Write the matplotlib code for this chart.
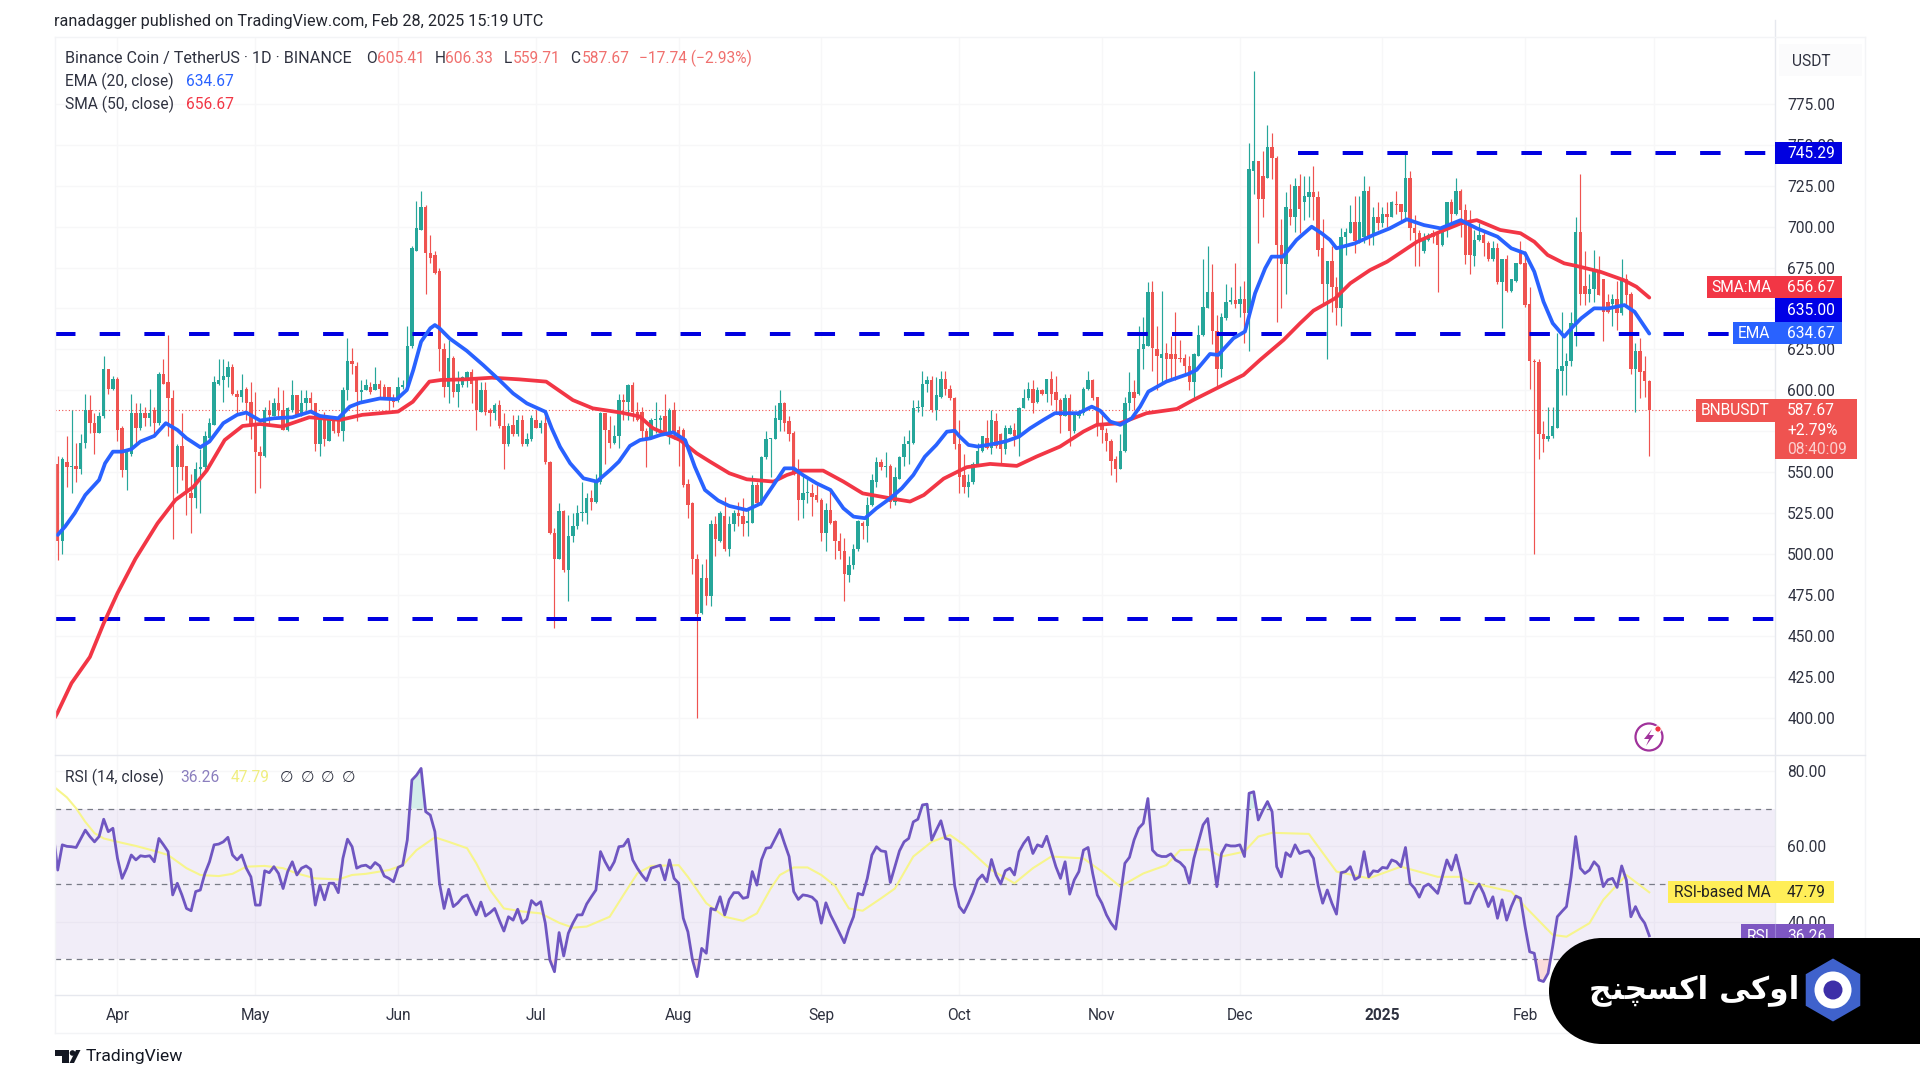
import numpy as np
import matplotlib
matplotlib.use("Agg")
import matplotlib.pyplot as plt
from matplotlib.patches import Rectangle, RegularPolygon, Circle, Polygon

plt.rcParams['font.family'] = ['Roboto', 'DejaVu Sans']

# ---------- data ----------
month_days = [0, 30, 61, 91, 122, 153, 183, 214, 244, 275, 306, 334]
month_labels = ['Apr', 'May', 'Jun', 'Jul', 'Aug', 'Sep', 'Oct', 'Nov', 'Dec', '2025', 'Feb', 'Mar']
first_day = -13      # bar offset (days from 1 Apr 2024) of the first visible candle

opens = [
 555,508,556,553,554,552,568,588,580,574, 584,613,601,607,577,551,561,586,577,586,
 583,588,580,610,605,595,553,566,554,537, 534,552,553,571,579,604,606,608,614,598,
 596,601,593,579,562,560,588,584,592,588, 576,588,597,584,592,595,592,567,584,569,
 582,581,575,600,618,615,599,600,602,600, 604,602,602,595,594,602,602,627,685,698,
 712,684,683,673,625,602,620,599,603,607, 611,606,587,600,588,586,591,578,567,579,
 573,582,567,570,582,577,580,556,513,497, 526,490,511,517,525,525,534,532,544,586,
 576,568,572,594,593,603,587,587,575,571, 582,582,584,574,588,576,576,543,531,497,
 464,485,474,518,508,523,503,518,525,523, 519,519,542,531,559,570,570,582,592,581,
 574,551,533,537,537,536,533,513,527,520, 508,502,487,493,503,519,517,530,544,556,
 553,554,532,546,559,567,568,589,590,604, 606,588,596,607,601,595,567,548,541,544,
 555,563,571,565,581,573,564,573,576,572, 589,595,601,593,600,598,607,599,594,584,
 595,575,584,586,601,606,596,578,574,569, 558,552,563,592,599,598,625,627,660,625,
 620,623,622,622,620,620,615,605,621,634, 650,660,636,613,644,654,655,653,656,647,
 734,740,731,730,749,742,689,677,711,706, 725,715,718,721,718,687,665,679,663,650,
 694,696,703,690,694,722,695,706,702,708, 706,714,714,709,730,699,696,685,692,696,
 696,689,698,715,708,722,710,701,682,692, 695,690,680,687,666,680,661,667,684,678,
 653,618,617,573,570,572,577,612,615,618, 641,697,664,659,662,673,668,654,653,656,
 647,668,659,613,624,612,605.41]
highs = [
 560,559,572,588,568,573,598,597,586,587, 621,613,609,608,578,564,598,592,592,590,
 601,590,611,619,634,600,567,586,554,549, 556,564,575,583,609,619,619,618,616,600,
 610,602,605,599,566,590,594,595,602,600, 590,606,597,600,600,599,592,584,587,584,
 583,582,602,632,626,617,606,607,605,614, 606,604,602,598,608,606,639,688,716,722,
 713,695,685,675,629,631,621,612,609,612, 613,608,605,605,589,592,594,586,580,585,
 585,585,574,585,588,582,588,557,516,531, 527,524,525,530,544,537,539,549,587,586,
 584,579,598,598,604,605,593,590,577,583, 593,585,598,589,593,578,577,546,532,500,
 494,497,521,523,526,535,523,527,532,534, 527,548,544,560,575,571,591,600,593,584,
 575,558,549,546,543,542,534,531,539,521, 513,510,499,506,521,520,535,549,559,558,
 562,555,553,560,572,576,594,594,612,609, 609,608,612,612,603,596,582,561,549,556,
 568,572,582,588,586,574,579,579,580,590, 601,605,606,602,601,607,612,609,595,598,
 598,586,588,602,612,607,596,586,577,570, 560,573,596,611,606,639,645,666,667,639,
 661,629,633,648,631,622,621,623,640,680, 688,677,646,647,665,663,678,664,667,751,
 795,740,746,762,757,743,705,721,726,730, 732,731,731,737,722,705,679,688,669,699,
 699,713,719,719,731,725,712,715,712,715, 716,722,714,746,734,707,698,696,696,698,
 697,699,715,717,730,723,714,710,698,702, 697,691,691,690,680,683,668,678,691,685,
 663,619,619,581,590,590,635,648,623,648, 706,732,685,671,686,682,668,659,659,667,
 680,671,660,629,632,621,606.33]
lows = [
 496,500,541,537,544,549,565,574,561,574, 583,598,600,569,547,539,560,568,576,578,
 578,573,579,604,572,509,537,545,524,513, 528,525,550,571,579,603,593,602,597,586,
 593,582,570,537,540,559,578,584,584,576, 575,587,584,584,588,588,563,560,566,569,
 574,572,569,594,610,581,592,600,598,600, 596,595,587,590,593,601,601,626,685,698,
 659,678,671,612,596,592,596,590,602,602, 592,576,587,585,578,582,577,552,566,572,
 572,566,566,569,577,574,555,512,455,497, 489,471,507,515,520,518,527,531,543,555,
 565,567,565,582,582,581,581,570,553,570, 574,575,573,567,570,554,541,522,488,400,
 463,469,468,499,507,502,499,514,517,511, 511,519,530,530,558,547,570,575,575,569,
 548,521,522,531,523,532,508,502,518,497, 497,471,483,491,502,509,507,529,541,551,
 547,528,530,546,554,555,567,587,584,599, 587,582,595,597,594,564,537,537,535,543,
 554,562,564,561,565,555,561,573,566,560, 589,594,586,592,597,593,591,586,574,584,
 566,574,583,585,600,594,572,568,563,548, 544,552,562,588,588,597,613,627,612,600,
 605,606,607,606,617,610,600,594,621,633, 650,628,602,608,643,653,650,645,629,624,
 720,690,706,730,729,642,650,659,701,697, 696,704,706,704,682,652,619,648,640,639,
 683,696,684,690,690,689,689,698,700,700, 706,708,702,704,692,676,676,684,691,690,
 660,688,694,702,707,694,677,671,676,691, 682,679,679,665,638,660,660,666,677,651,
 601,500,558,562,569,571,577,597,597,615, 627,652,652,654,654,658,630,647,639,637,
 646,651,610,587,595,596,559.71]
closes = [
 508,558,553,554,552,568,588,580,574,584, 613,601,607,576,551,562,586,577,586,583,
 586,580,610,604,595,553,566,553,537,534, 552,553,572,580,605,606,609,614,598,596,
 600,592,578,562,560,588,585,592,588,576, 589,597,584,592,595,592,567,583,570,582,
 575,574,600,618,616,599,600,603,599,604, 601,596,595,593,602,603,627,687,699,712,
 684,681,672,625,602,620,599,604,608,611, 604,588,600,587,586,591,578,567,578,573,
 582,567,570,583,577,580,556,513,497,526, 490,511,517,525,525,534,532,545,586,576,
 568,572,594,593,603,587,582,575,570,582, 582,583,574,588,574,571,542,530,497,463,
 485,474,518,509,525,503,518,525,523,518, 520,542,531,559,570,571,583,592,580,573,
 549,533,537,537,535,533,513,527,519,508, 502,488,493,503,520,517,530,545,556,553,
 554,532,547,559,567,569,589,590,604,606, 588,597,607,601,595,567,547,541,544,555,
 563,572,565,582,566,564,577,577,572,589, 595,601,592,600,598,607,598,594,584,595,
 575,585,586,601,606,595,578,576,569,557, 552,563,592,599,595,625,628,660,626,621,
 622,619,619,619,619,615,605,622,634,651, 660,636,613,645,654,655,653,656,647,735,
 740,717,717,749,742,689,677,712,706,725, 711,719,721,718,686,665,679,663,650,694,
 697,703,691,703,722,693,706,702,708,706, 715,713,709,730,699,696,691,693,695,694,
 689,698,715,708,722,710,683,683,692,695, 690,680,687,666,680,661,668,678,677,652,
 618,617,573,570,572,578,613,615,618,641, 697,659,659,662,673,658,648,648,656,647,
 668,658,613,624,611,605.41,587.67]

ema_days = [-13,-11.4,-9.3,-7,-4,-2.7,-1,1,3,5,8,10.5,13,15,18,20,23,26,28,31,34,38,42,44,48,
 50.5,52.7,57,60.7,62.9,64.3,66,68,69,70,72.2,75.9,79.5,83,86,89,93,94.4,96.2,98.4,101.3,104.2,107.1,109,111.4,
 113.6,115.8,118,120.8,123.4,125.5,127.7,130.6,133,136.8,139.9,142.6,145,147,149,152,155,157.8,160,162.5,165,168,170.5,173,175.5,178,180.3,182,
 183,185,187,190.4,193,196,198.4,201.3,203.8,206.4,208.9,211.8,213.6,215.8,218,220.5,222.3,224.1,228,232.8,234.6,237.5,239.3,242.6,245.1,247.3,249.5,250.9,253.4,256.3,
 259.6,261.8,263.6,265,269,273,276.6,280.3,284,287.6,292,295.5,300,303,306,308,310,312,314.5,316.4,318.2,321,324,327.6,329.8,333]
ema_vals = [511.6,516.7,524.9,536,545.2,555.4,562.5,562.5,564,568.7,572.1,579.9,575.8,570.7,565.2,568.7,579.9,585,586.4,581.5,582.9,583.5,587,584.3,582.9,
 590,592.4,595,594.5,600.2,612.4,629.7,637.9,639.9,637.9,631.7,624.2,615.4,606.3,598.1,592,586.9,576.7,565.5,555.4,546.2,544.2,551.3,556.4,566,
 569.6,570.6,572.7,574.3,569.6,553.3,539.1,532.6,529.3,526.8,530.9,542.1,552.3,552.3,548.2,543.1,539.1,527.9,522.8,521.8,527.9,534,540.1,548.2,559.4,566.6,574.7,575.3,
 572,566.6,565.6,567.2,568.7,571.7,576.8,581.9,586,586,586,590,587.6,580.9,578.9,582.9,590,599.2,605.3,610,612.5,622.2,621.6,631.8,635.9,659.3,674.6,681.7,681.7,691.9,
 700,695.9,691.9,686.8,689.8,694.9,699,704.5,701,699,704,699,693.9,686.8,683.7,672.5,654.2,641,632.8,638.9,644,650.1,650,652.1,648,634.67]

sma_days = [-13.6,-13.1,-10,-6,-3,0,3.9,8.7,12.6,16.5,19.4,23.3,27.2,31,35.8,41.7,48.4,53.2,61,64.2,67.8,70.3,75.6,81.4,87.3,93.2,99,103.3,109.6,113.5,116.4,122.3,
 125.9,128.8,133,136.8,142.6,145.5,148.4,153.4,157.8,162,168,172.3,175.3,179.6,184.6,189.7,195.5,199.8,204.9,210,212.9,218,223.7,230.3,233.9,239,244.8,248.4,253.5,257.1,
 260,264.7,268,272.3,276,282.5,287.6,292,295.5,300.6,305,308,310.9,314.5,317.2,322.3,327.4,330.2,333]
sma_vals = [400,402.6,421,437,457.6,476,497,518.7,533,541,551,569.6,578.2,579.4,577.8,583.5,581.9,585,587,593,605.3,606.3,606.7,607.7,606.7,605.3,594,589,586.3,584,576.8,569.6,
 561.5,556.4,549.3,545.6,544.2,548.2,550.9,550.9,544.2,537,534,532,536,546,553,555,553.8,559.5,565.6,574.8,578.9,579.9,586,588.6,594.1,601.3,609.4,618.6,630.8,641,
 648.7,656.2,665.4,673.5,678.6,690.8,697,702,704,698,696,690.8,682.7,677.6,676,672.5,667.4,663.3,656.67]

rsi_first_day = -14
rsi_vals = [64,53.7,60.4,60,59.9,59.7,62,64.3,62.6,61.2,62.6,67.2,63.9,64.8,
 56.8,51.5,54.2,57.7,56.4,57.5,57.3,57.5,55.9,62.1,
 60.4,58.6,47.1,50.2,47.1,43.5,42.9,48,48.4,52.8,
 55.9,60.4,60.6,61.2,62.4,57.7,56.4,57.7,54.2,51.9,
 44.4,44.4,53.5,53,54.6,52.8,48.8,53.3,55.9,52.4,
 54.2,54.8,53.9,44.4,49.7,45.8,50.2,50.2,47.7,56.8,
 61.9,59.9,54.2,54.8,55,54.2,55.7,54.8,52.1,51.5,
 50.6,54.4,55,61.7,77.6,78.9,80.7,69.2,68.3,63.9,
 50.2,43.5,48.6,44,45,46.5,47.1,44.4,41.8,45.2,
 41.5,42.4,43.5,40.4,37.5,41.3,40.4,43.3,39.6,40.7,
 45.6,44.4,45.3,39.6,29.8,26.7,37.1,30.9,36.9,39.6,
 41.8,41.8,44.7,46.6,48.4,58.6,55.9,53.7,55.9,59.9,
 60.1,61.9,56.4,54.2,52.4,50.9,54.2,54.6,55,51.1,
 56.4,51.5,50.2,40.9,37.3,29.8,25.4,32.9,31.6,43.5,
 43.1,46.6,41.8,45.9,47.7,47.7,46.2,46.5,53.3,49.7,
 56.4,59.5,59.7,62.1,64.5,60.8,57.3,48,45.9,47.1,
 46.9,46.5,45.3,39.6,45,41.8,39.4,36.9,34.4,38.2,
 41.3,47.5,47.1,51.5,57.7,59.9,58.8,58.6,50.4,54.6,
 58.8,61.2,62.1,66.5,67.2,71,71.2,61.7,64.3,66.8,
 62.1,61.7,49.5,44,42.4,44.9,47.7,51.1,52.4,50.6,
 56.5,52.4,50,53.5,54.2,52.4,58.6,60.8,62.4,58.1,
 60.4,59.9,62.7,58.6,54.6,51.5,55.9,47.3,51.1,53.3,
 59,59.7,52.8,47.1,44.9,41.8,39.6,38,46.6,55.5,
 57.1,61.7,64.8,66.1,72.7,59,57.7,57.3,57.3,58,
 56.4,55.7,54.4,50.2,56.8,61.2,65.7,67.4,58.1,49.3,
 58.1,60.4,60.1,60.1,60.4,57.3,74.1,74.5,67,69.6,
 71.9,69.2,54.6,51.9,58.3,57.3,60.4,58.1,58.6,58.8,
 56.8,49.7,44.9,48.4,44.9,42,53,53.3,54.6,51.2,
 51.9,58.6,51.9,53.5,53.3,54.4,54.2,56.4,55.9,54.6,
 59.7,50.2,48.8,46.5,49.3,50,48.8,47.5,51.9,56.4,
 53.7,57.7,52.8,44.9,44.9,48,50,47.5,44,46.6,
 40.9,45.8,40.4,44,46.8,46.2,38.7,32,31.6,24.5,
 24.1,26.3,33.4,41.3,42.7,44,51.9,62.6,54.2,52.8,
 53.7,55.9,54.6,49.3,51.1,51.5,49.1,54.8,51.1,41.3,
 44,41.3,39.6,36.26]

rsima_days = [-14,-11,-9,-7,-5,-3,0,4,8,11,15,18,22,25,28,32,36,39,43,48,51,54,59,62,65,69,72,76,78,81,84,88,92,96,99,102,107,110,113,116,122,124,128,132,136,139,142,
 144,147,150,153,156,159,162,166,169,173,177,181,184,190,195,199,203,210,214,218,223,228,231,237,240,245,248,251,259,265,272,279,287,292,294,303,306,312,315,320,323,328,333]
rsima_vals = [76,73,70.1,66.5,63.5,62.1,61.2,60.1,58.8,57.7,54.2,52.4,52.1,52.7,54.6,54.8,54.2,52.8,51.5,51.2,52.4,52.7,53.7,55,59,62.4,61.2,59.5,55.5,48.4,43.5,42.7,42.2,39.7,38.4,38.7,41.3,47.1,52.8,54.8,55,51.9,44.9,41.3,40.2,42.2,48.8,
 52.4,54.4,54.4,52.4,49.5,43.5,42.9,46.2,48.8,57.3,61.2,63,60.4,53.7,50.2,54.2,57.3,56.8,53.3,49.3,52.8,55,59,59.2,57.3,58.6,62.6,63.6,63.3,53.3,51.5,54.6,51.9,51.9,50.4,48,44,36.5,36,39.6,45.8,52.4,47.79]

resistance_levels = [634.67, 460.0]
top_level = 745.29
top_level_start = 256.7
last_close = 587.67
rsi_bands = [70, 50, 30]
price_ticks = list(range(400, 800, 25))
rsi_ticks = [40, 60, 80]

# ---------- figure ----------
W, H = 1920, 1081
fig = plt.figure(figsize=(W / 100, H / 100), dpi=100, facecolor='white')

def ax_px(x0, y0, x1, y1):
    return fig.add_axes([x0 / W, 1 - y1 / H, (x1 - x0) / W, (y1 - y0) / H])

PLOT_L, PLOT_R = 55, 1775
ax = ax_px(PLOT_L, 37, PLOT_R, 755)
rx = ax_px(PLOT_L, 755, PLOT_R, 995)

GREEN, RED = '#26A69A', '#EF5350'
GRID = '#f7f7f8'
TXT = '#2f3240'
xlim = (-13.587, 360.33)

days = np.arange(first_day, first_day + len(closes))
o, h, l, c = map(np.array, (opens, highs, lows, closes))
up = c >= o
cols = np.where(up, GREEN, RED)

ax.vlines(days, l, h, colors=cols, lw=0.85, zorder=3)
ax.bar(days, np.maximum(np.abs(c - o), 0.7), bottom=np.minimum(o, c), width=0.74, color=cols, lw=0, zorder=3)

DASH = (0, (5.12, 6.05))
for lev in resistance_levels:
    ax.plot(xlim, [lev, lev], color='#0000E0', lw=2.88, ls=DASH, dash_capstyle='butt', zorder=3.5)
ax.plot([top_level_start, xlim[1]], [top_level, top_level], color='#0000E0', lw=2.88, ls=DASH, dash_capstyle='butt', zorder=3.5)

ax.axhline(last_close, color=RED, lw=0.8, ls=(0, (1, 2)), zorder=2)
ax.plot(sma_days, sma_vals, color='#F23645', lw=2.7, zorder=4, solid_capstyle='round', solid_joinstyle='round')
ax.plot(ema_days, ema_vals, color='#2962FF', lw=2.7, zorder=4.5, solid_capstyle='round', solid_joinstyle='round')

ax.set_xlim(xlim)
ax.set_ylim(377.08, 815.95)
ax.set_yticks(price_ticks)
ax.set_yticklabels([f'{v:.2f}' for v in price_ticks])

rdays = np.arange(rsi_first_day, rsi_first_day + len(rsi_vals))
rv = np.array(rsi_vals)
rx.axhspan(30, 70, color='#7E57C2', alpha=0.1, lw=0, zorder=1)
for b in rsi_bands:
    rx.axhline(b, color='#787B86', lw=0.9, ls=(0, (4.5, 4)), zorder=2)
rx.fill_between(rdays, rv, 70, where=rv > 70, interpolate=True, color='#26A69A', alpha=0.2, lw=0, zorder=2)
rx.fill_between(rdays, rv, 30, where=rv < 30, interpolate=True, color='#EF5350', alpha=0.2, lw=0, zorder=2)
rx.plot(rsima_days, rsima_vals, color='#F7F58C', lw=1.5, zorder=3)
rx.plot(rdays, rv, color='#6F56C1', lw=2.0, zorder=4, solid_joinstyle='round')
rx.set_xlim(xlim)
rx.set_ylim(20.52, 84.26)
rx.set_yticks(rsi_ticks)
rx.set_yticklabels([f'{v:.2f}' for v in rsi_ticks])
rx.set_xticks(month_days)
rx.set_xticklabels(month_labels)

for a in (ax, rx):
    a.yaxis.tick_right()
    a.tick_params(axis='y', length=0, pad=8.8, labelsize=11.2, labelcolor=TXT)
    a.tick_params(axis='x', length=0, pad=9.5, labelsize=11.2, labelcolor=TXT)
    a.set_xticks(month_days)
    a.grid(True, color=GRID, lw=1.0, zorder=0)
    a.set_axisbelow(True)
    for s in a.spines.values():
        s.set_visible(False)
ax.tick_params(axis='x', labelbottom=False)
for t in rx.get_xticklabels():
    if t.get_text() == '2025':
        t.set_fontweight('bold')

# ---------- overlay in pixel coordinates ----------
ov = fig.add_axes([0, 0, 1, 1], zorder=20)
ov.set_xlim(0, W)
ov.set_ylim(H, 0)
ov.axis('off')
ov.patch.set_alpha(0)

LINE = '#e6e8ee'
FAINT = '#f3f4f6'
ov.plot([PLOT_R, PLOT_R], [20, 995], color=LINE, lw=1)
ov.plot([PLOT_L, PLOT_L], [37, 1033], color=FAINT, lw=1)
ov.plot([1865, 1865], [37, 1033], color=FAINT, lw=1)
ov.plot([PLOT_L, 1865], [37, 37], color=FAINT, lw=1)
ov.plot([PLOT_L, 1865], [755, 755], color=LINE, lw=1)
ov.plot([PLOT_L, PLOT_R], [995, 995], color=LINE, lw=1)
ov.plot([PLOT_L, 1865], [1033, 1033], color=FAINT, lw=1)

FS = 11.2

def T(x, y, s, color=TXT, size=FS, ha='left', weight='normal', **kw):
    return ov.text(x, y + 1.5, s, color=color, fontsize=size, ha=ha, va='center', fontweight=weight, **kw)

def box(x0, y0, x1, y1, fc, z=2):
    ov.add_patch(Rectangle((x0, y0), x1 - x0, y1 - y0, fc=fc, ec='none', zorder=z))

T(54.5, 20, 'ranadagger published on TradingView.com, Feb 28, 2025 15:19 UTC', color='#23262f', size=11.7)

T(65, 57, 'Binance Coin / TetherUS · 1D · BINANCE', size=11.6)
RED_T = '#F0706E'
for xl, lab, xv, val in [(366, 'O', 376.5, '605.41'), (435, 'H', 445.4, '606.33'),
                         (504, 'L', 513, '559.71'), (570, 'C', 581.6, '587.67')]:
    T(xl, 57, lab, size=FS)
    T(xv, 57, val, color=RED_T, size=FS)
T(639, 57, '−17.74 (−2.93%)', color=RED_T, size=FS)
T(65, 80, 'EMA (20, close)', size=FS)
T(186, 80, '634.67', color='#2962FF', size=FS)
T(65, 103, 'SMA (50, close)', size=FS)
T(186, 103, '656.67', color='#F23645', size=FS)

T(65, 776, 'RSI (14, close)', size=FS)
T(180, 776, '36.26', color='#8B7FBE', size=FS)
T(230.6, 776, '47.79', color='#F0EE80', size=FS)
for xp in (279.6, 300.5, 321, 341.5):
    T(xp, 776, '∅', size=FS)

box(1779, 44, 1862, 76, '#fbfbfc', z=1)
T(1811, 60, 'USDT', size=FS, ha='center')

WHITE = 'white'
box(1775, 141.7, 1842, 164, '#0000E0')
T(1787, 152, '745.29', color=WHITE)

box(1707, 275.7, 1842, 298, '#F23645')
T(1741, 286, 'SMA:MA', color=WHITE, ha='center')
T(1787, 286, '656.67', color=WHITE)

box(1775, 298, 1842, 322, '#0000E6')
T(1787, 309, '635.00', color=WHITE)

box(1733, 322, 1842, 344, '#2962FF')
T(1754, 332, 'EMA', color=WHITE, ha='center')
T(1787, 332, '634.67', color=WHITE)

box(1696, 399, 1775, 422, RED)
T(1735, 409, 'BNBUSDT', color=WHITE, ha='center')
box(1775, 399, 1857, 459, RED)
T(1787, 409, '587.67', color=WHITE)
T(1787, 429, '+2.79%', color=WHITE)
T(1787, 448, '08:40:09', color='#FBD0CF')

box(1667.7, 880.7, 1834, 903, '#FFEE58')
T(1674, 891, 'RSI-based MA', color='#222222')
T(1787, 891, '47.79', color='#222222')

box(1741, 924, 1834, 950, '#7E57C2')
ov.plot([1775, 1775], [924, 950], color='#9a80d4', lw=0.8, zorder=3)
T(1758, 935, 'RSI', color=WHITE, ha='center', zorder=3)
T(1787, 935, '36.26', color=WHITE, zorder=3)

# snapshot icon
ov.add_patch(Circle((1649, 737), 13.5, fc='white', ec='#A0329B', lw=1.6, zorder=3))
ov.add_patch(Polygon([[1652, 729], [1644, 739], [1649, 739], [1646, 746], [1654, 735], [1649, 735]],
                     fc='#A0329B', ec='none', zorder=4))
ov.add_patch(Circle((1658, 729), 3.2, fc='#F23645', ec='white', lw=0.8, zorder=5))

# TradingView mark
tvc = '#131722'
ov.add_patch(Polygon([[54.5, 1050], [69, 1050], [69, 1063], [62, 1063], [62, 1056], [54.5, 1056]], fc=tvc, ec='none'))
ov.add_patch(Circle((72.5, 1053), 2.8, fc=tvc, ec='none'))
ov.add_patch(Polygon([[74, 1063], [80.5, 1050], [76, 1050], [69.5, 1063]], fc=tvc, ec='none'))
T(86, 1055, 'TradingView', color='#131722', size=12.6)

# black banner
ov.add_patch(Rectangle((1602, 938), 330, 106, fc='black', ec='none', zorder=10))
ov.add_patch(Circle((1602, 991), 53, fc='black', ec='none', zorder=10))
ov.text(1694, 990, '\uFE9E\uFEE8\uFB7D\uFEB4\uFB90\uFE8D \uFBFD\uFB90\uFEED\uFE8D', color='white', fontsize=22.6,
        fontweight='bold', ha='center', va='center', family=['DejaVu Sans'], zorder=12)
ov.add_patch(RegularPolygon((1833, 990), 6, radius=31.5, orientation=0, fc='#3F62CC', ec='none', zorder=11))
ov.add_patch(Circle((1833, 990), 18.5, fc='white', ec='none', zorder=12))
ov.add_patch(Circle((1833, 990), 9.5, fc='#3D2FA8', ec='none', zorder=13))

fig.savefig('out.png', dpi=100, facecolor='white')
assert len(opens) == len(highs) == len(lows) == len(closes) == 347
assert len(rsi_vals) == 348
